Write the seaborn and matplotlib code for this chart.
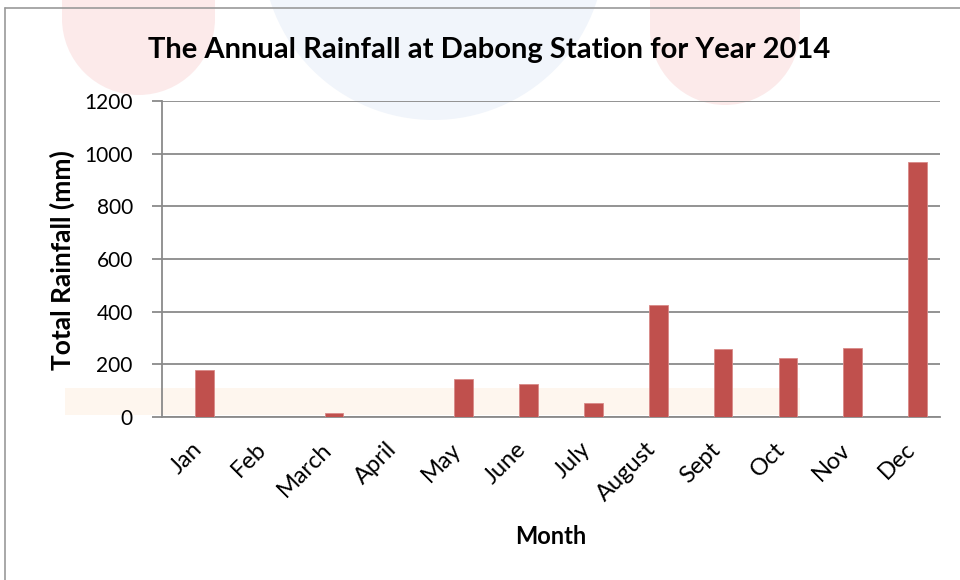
import matplotlib
matplotlib.use("Agg")
import matplotlib.pyplot as plt
import matplotlib.transforms as mtransforms
import seaborn as sns
import pandas as pd
from matplotlib.patches import Rectangle, Ellipse
from matplotlib.lines import Line2D

months = ["Jan", "Feb", "March", "April", "May", "June", "July",
          "August", "Sept", "Oct", "Nov", "Dec"]
rainfall = [177, 0, 14, 0, 143, 126, 53, 426, 258, 225, 262, 967]
y_ticks = [0, 200, 400, 600, 800, 1000, 1200]

title = "The Annual Rainfall at Dabong Station for Year 2014"
x_label = "Month"
y_label = "Total Rainfall (mm)"

sns.set_theme(style="white")
plt.rcParams["font.family"] = ["Lato", "DejaVu Sans"]

W, H = 960, 580
fig = plt.figure(figsize=(W / 100, H / 100), dpi=100)
fig.patch.set_facecolor("white")

def fx(px):
    return px / W

def fy(py):
    return 1 - py / H

# faint watermark background shapes
for (x0, x1, ybot, col) in [(62, 215, 95, "#fceaea"), (262, 605, 120, "#f1f5fb"),
                            (650, 800, 105, "#fceaea")]:
    wdt = x1 - x0
    r = wdt / 2
    fig.patches.append(Rectangle((fx(x0), fy(ybot - r)), fx(wdt), fy(0) - fy(ybot - r) + 0.01,
                                 transform=fig.transFigure, facecolor=col, edgecolor="none", zorder=-10))
    fig.patches.append(Ellipse((fx(x0 + r), fy(ybot - r)), fx(wdt), r * 2 / H,
                               transform=fig.transFigure, facecolor=col, edgecolor="none", zorder=-10))
fig.patches.append(Rectangle((fx(65), fy(415)), fx(735), 27 / H, transform=fig.transFigure,
                             facecolor="#fef6ee", edgecolor="none", zorder=-10))

# outer border
fig.lines.append(Line2D([fx(5), fx(5)], [fy(8), 0], transform=fig.transFigure,
                        color="#9a9a9a", lw=1.2))
fig.lines.append(Line2D([fx(5), 1], [fy(8), fy(8)], transform=fig.transFigure,
                        color="#9a9a9a", lw=1.2))

ax = fig.add_axes([fx(162), fy(417), fx(940 - 162), (417 - 101) / H])
ax.set_facecolor("none")

df = pd.DataFrame({"Month": months, "Rainfall": rainfall})
sns.barplot(data=df, x="Month", y="Rainfall", color="#C0504D", saturation=1,
            width=0.29, ax=ax, zorder=3)

# bars sit slightly right of the category centre, as in the reference
bar_shift = mtransforms.ScaledTranslation(10 / 100, 0, fig.dpi_scale_trans)
for p in ax.patches:
    p.set_transform(ax.transData + bar_shift)
    p.set_edgecolor("#d98a88")
    p.set_linewidth(0.6)

ax.set_ylim(0, 1200)
ax.set_yticks(y_ticks)
ax.set_xlim(-0.5, len(months) - 0.5)
ax.yaxis.grid(True, color="#8a8a8a", linewidth=1.3, zorder=0)
ax.set_axisbelow(True)
for s in ["top", "right"]:
    ax.spines[s].set_visible(False)
for s in ["left", "bottom"]:
    ax.spines[s].set_color("#8a8a8a")
    ax.spines[s].set_linewidth(1.3)

ax.tick_params(axis="y", which="both", left=True, length=7, width=1.3, color="#8a8a8a",
               labelsize=15, pad=14, labelcolor="black")
ax.tick_params(axis="x", bottom=False, labelsize=17, pad=15, labelcolor="black")
offset = mtransforms.ScaledTranslation(4 / 100, 0, fig.dpi_scale_trans)
for lab in ax.get_xticklabels():
    lab.set_rotation(45)
    lab.set_ha("right")
    lab.set_va("center")
    lab.set_rotation_mode("anchor")
    lab.set_transform(lab.get_transform() + offset)

ax.set_xlabel(x_label, fontsize=17, fontweight="bold", color="black", va="center")
ax.xaxis.set_label_coords((551 - 162) / 778, (417 - 537) / 316)
ax.set_ylabel(y_label, fontsize=19, fontweight="bold", color="black", va="center")
ax.yaxis.set_label_coords((62 - 162) / 778, (417 - 260) / 316)

fig.text(fx(489), fy(50), title, fontsize=21, fontweight="bold", ha="center", va="center",
         color="black")

fig.savefig("out.png", dpi=100)
